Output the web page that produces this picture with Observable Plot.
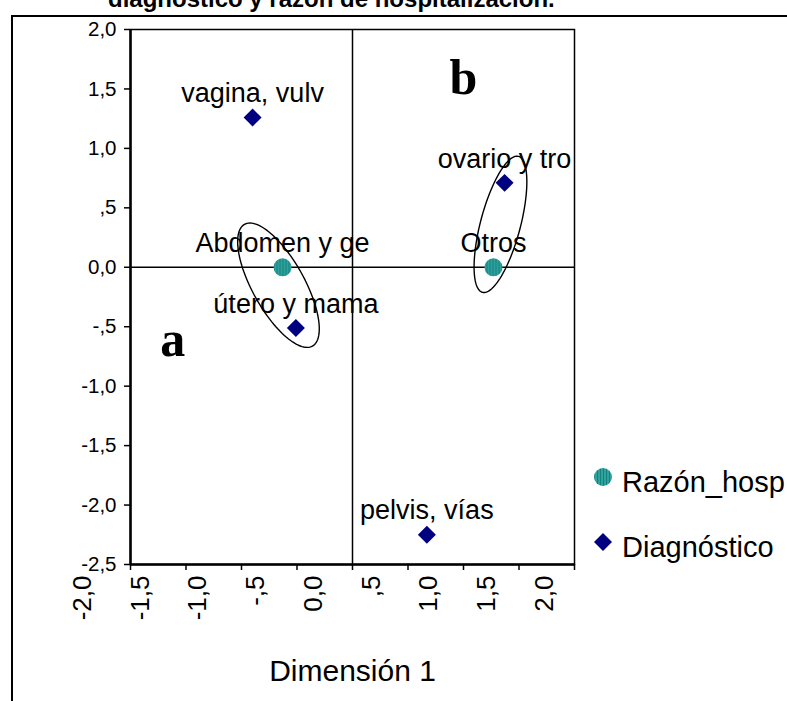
<!DOCTYPE html>
<html>
<head>
<meta charset="utf-8">
<script src="https://cdn.jsdelivr.net/npm/d3@7"></script>
<script src="https://cdn.jsdelivr.net/npm/@observablehq/plot@0.6"></script>
<style>
  html, body { margin: 0; padding: 0; background: #fff; overflow: hidden; }
  #wrap { position: relative; width: 787px; height: 701px; overflow: hidden;
          font-family: "Liberation Sans", Arial, sans-serif; color: #000; }
  #border { position: absolute; left: 11px; top: 15px; width: 900px; height: 900px;
            border-left: 2px solid #000; border-top: 2px solid #000; }
  #title { position: absolute; left: 108px; top: -13px; font-size: 24px; line-height: 24px;
           font-weight: bold; white-space: nowrap; }
  .layer { position: absolute; left: 0; top: 0; }
</style>
</head>
<body>
<svg width="0" height="0" style="position:absolute">
  <defs>
    <pattern id="tealStripe" patternUnits="userSpaceOnUse" width="3" height="4">
      <rect width="3" height="4" fill="#2fa29e"></rect>
      <rect x="0" width="1" height="4" fill="#16807c"></rect>
    </pattern>
  </defs>
</svg>
<div id="wrap">
  <div id="border"></div>
  <div id="title">diagnóstico y razón de hospitalización.</div>
</div>
<script>
// Axis domains and tick labels (SPSS-style decimal commas)
const xDomain = [-2, 2];
const yDomain = [-2.5, 2];
const xTicks = [-2, -1.5, -1, -0.5, 0, 0.5, 1, 1.5, 2];
const xTickLabels = ["-2,0", "-1,5", "-1,0", "-,5", "0,0", ",5", "1,0", "1,5", "2,0"];
const yTicks = [2, 1.5, 1, 0.5, 0, -0.5, -1, -1.5, -2, -2.5];
const yTickLabels = ["2,0", "1,5", "1,0", ",5", "0,0", "-,5", "-1,0", "-1,5", "-2,0", "-2,5"];

// Category points: Diagnóstico
const diagLabels = ["vagina, vulv", "útero y mama", "ovario y tro", "pelvis, vías"];
const diagX = [-0.90, -0.51, 1.37, 0.67];
const diagY = [1.26, -0.51, 0.71, -2.25];

// Category points: Razón_hosp
const razLabels = ["Abdomen y ge", "Otros"];
const razX = [-0.63, 1.27];
const razY = [0.0, 0.0];

// Group annotations and the ellipses enclosing each group
const groupLetters = ["a", "b"];
const groupX = [-1.62, 1.0];
const groupY = [-0.75, 1.46];
const ellipseCX = [-0.667, 1.333];
const ellipseCY = [-0.151, 0.361];
const ellipseMajor = [[-0.306, 0.512], [0.162, 0.572]];
const ellipseMinor = [[0.204, 0.107], [0.174, -0.043]];

// Legend entries
const legendNames = ["Razón_hosp", "Diagnóstico"];

const font = "'Liberation Sans', Arial, sans-serif";
const diagColor = "#000080";
const razColor = "url(#tealStripe)";

const diag = diagLabels.map((label, i) => ({label, x: diagX[i], y: diagY[i]}));
const raz = razLabels.map((label, i) => ({label, x: razX[i], y: razY[i]}));
const groups = groupLetters.map((t, i) => ({t, x: groupX[i], y: groupY[i]}));

const ellipsePts = [];
ellipseCX.forEach((cx, e) => {
  const cy = ellipseCY[e], M = ellipseMajor[e], N = ellipseMinor[e];
  const n = 120;
  for (let k = 0; k <= n; ++k) {
    const t = (2 * Math.PI * k) / n;
    ellipsePts.push({e, x: cx + M[0] * Math.cos(t) + N[0] * Math.sin(t),
                        y: cy + M[1] * Math.cos(t) + N[1] * Math.sin(t)});
  }
});

const yFmt = new Map(yTicks.map((v, i) => [v, yTickLabels[i]]));
const xFmt = new Map(xTicks.map((v, i) => [v, xTickLabels[i]]));

const W = 787, H = 701;
const common = {width: W, height: H, marginTop: 29, marginBottom: 137};

const chart = Plot.plot({
  ...common,
  marginLeft: 130,
  marginRight: 213,
  x: {domain: xDomain},
  y: {domain: yDomain},
  style: {fontFamily: font, background: "transparent", overflow: "visible"},
  marks: [
    Plot.frame({stroke: "#000", strokeWidth: 1.5}),
    Plot.ruleX([0], {stroke: "#000", strokeWidth: 1.5}),
    Plot.ruleY([0], {stroke: "#000", strokeWidth: 1.5}),
    Plot.ruleX([xDomain[0]], {stroke: "#000", strokeWidth: 2.5}),
    Plot.ruleY([yDomain[0]], {stroke: "#000", strokeWidth: 2.5}),
    Plot.axisY(yTicks, {tickSize: 6, tickPadding: 8, strokeWidth: 1.5, fontSize: 20.5,
                        tickFormat: d => yFmt.get(d), label: null}),
    Plot.axisX(xTicks, {tickSize: 6, strokeWidth: 1.5, tickFormat: () => "", label: null}),
    Plot.line(ellipsePts, {x: "x", y: "y", z: "e", stroke: "#000", strokeWidth: 1.4}),
    Plot.dot(diag, {x: "x", y: "y", symbol: "diamond2", r: 8.1, fill: diagColor}),
    Plot.dot(raz, {x: "x", y: "y", symbol: "circle", r: 9, fill: razColor}),
    Plot.text(diag, {x: "x", y: "y", text: "label", fontSize: 27, dy: -24}),
    Plot.text(raz, {x: "x", y: "y", text: "label", fontSize: 27, dy: -24}),
    Plot.text(groups, {x: "x", y: "y", text: "t", fontSize: 50, fontWeight: "bold",
                       fontFamily: "'Liberation Serif', 'Times New Roman', serif", dy: -16}),
    Plot.text(["Dimensión 1"], {frameAnchor: "bottom", lineAnchor: "middle", dy: 107, fontSize: 30})
  ]
});

// Rotated x tick labels, laid out on their own scale beneath the axis
const xLabels = Plot.plot({
  ...common,
  marginLeft: 82,
  marginRight: 243,
  x: {domain: xDomain},
  style: {fontFamily: font, background: "transparent", overflow: "visible"},
  marks: [
    Plot.axisX(xTicks, {tickSize: 0, tickPadding: 11, tickRotate: -90, fontSize: 26,
                        tickFormat: d => xFmt.get(d), label: null})
  ]
});

const wrap = document.getElementById("wrap");
chart.classList.add("layer");
xLabels.classList.add("layer");
wrap.appendChild(chart);
wrap.appendChild(xLabels);

// Legend
const legend = d3.select(wrap).append("svg")
  .attr("class", "layer").attr("width", W).attr("height", H)
  .style("font-family", font);
const legendY = [477, 542];
legend.append("circle").attr("cx", 603).attr("cy", legendY[0]).attr("r", 9).attr("fill", razColor);
legend.append("path").attr("d", d3.symbol(d3.symbolDiamond2, Math.PI * 8.1 * 8.1)())
  .attr("transform", `translate(603,${legendY[1]})`).attr("fill", diagColor);
legend.selectAll("text").data(legendNames).join("text")
  .attr("x", 622).attr("y", (d, i) => legendY[i] + 15)
  .attr("font-size", 29).text(d => d);
</script>
</body>
</html>
